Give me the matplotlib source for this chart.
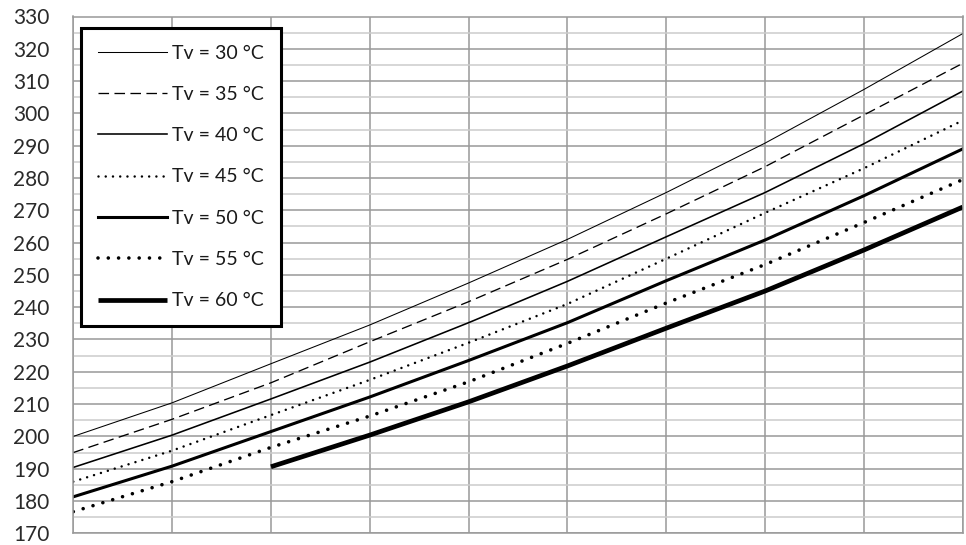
import numpy as np
import matplotlib
matplotlib.use('Agg')
import matplotlib.pyplot as plt
from matplotlib.ticker import MultipleLocator, NullFormatter

plt.rcParams['font.family'] = ['Lato', 'DejaVu Sans']
plt.rcParams['lines.scale_dashes'] = False

# values read at the vertical gridlines 0..9
x = np.arange(10)
tv30 = [200.0, 210.4, 222.5, 234.5, 247.5, 261.0, 275.5, 290.8, 307.4, 324.7]
tv35 = [195.0, 205.3, 216.6, 229.3, 241.7, 254.8, 268.9, 283.5, 299.5, 315.5]
tv40 = [190.4, 200.4, 211.6, 223.0, 235.2, 248.0, 261.8, 275.5, 290.6, 306.9]
tv45 = [186.0, 195.6, 206.6, 217.5, 229.0, 241.0, 255.0, 269.2, 283.0, 297.8]
tv50 = [181.3, 190.8, 201.5, 212.2, 223.5, 235.2, 248.2, 260.8, 274.5, 289.0]
tv55 = [176.7, 186.0, 196.6, 206.3, 216.9, 228.8, 241.3, 253.2, 266.2, 279.5]
x60 = np.arange(2, 10)
tv60 = [190.6, 200.4, 210.7, 221.8, 233.5, 245.0, 257.7, 271.0]

labels = ['Tv = 30 °C', 'Tv = 35 °C', 'Tv = 40 °C', 'Tv = 45 °C',
          'Tv = 50 °C', 'Tv = 55 °C', 'Tv = 60 °C']

fig = plt.figure(figsize=(9.66, 5.45), dpi=100)
ax = fig.add_axes([73.3 / 966, 1 - 533.3 / 545, 889.4 / 966, 516.8 / 545])

ax.plot(x, tv30, color='black', lw=0.75, label=labels[0])
ax.plot(x, tv35, color='black', lw=0.95, dashes=(7.6, 3.9), label=labels[1])
ax.plot(x, tv40, color='black', lw=1.15, label=labels[2])
ax.plot(x, tv45, color='black', lw=1.8, dashes=(0.01, 5.2),
        dash_capstyle='round', label=labels[3])
ax.plot(x, tv50, color='black', lw=2.2, label=labels[4])
ax.plot(x, tv55, color='black', lw=2.6, dashes=(0.01, 7.4),
        dash_capstyle='round', label=labels[5])
ax.plot(x60, tv60, color='black', lw=3.4, solid_capstyle='butt', label=labels[6])

ax.set_xlim(0, 9)
ax.set_ylim(170, 330)
ax.set_xticks(x)
ax.xaxis.set_major_formatter(NullFormatter())
ax.yaxis.set_major_locator(MultipleLocator(10))
ax.yaxis.set_minor_locator(MultipleLocator(5))
ax.grid(which='major', color='#999999', lw=1.1)
ax.grid(which='minor', axis='y', color='#cccccc', lw=1.1)
ax.set_axisbelow(True)
ax.tick_params(axis='both', which='both', length=0)
ax.tick_params(axis='y', labelsize=15, pad=17, labelcolor='#2a2a2a')
for s in ax.spines.values():
    s.set_color('#999999')
    s.set_linewidth(1.1)

leg = ax.legend(loc='upper left', bbox_to_anchor=(7.7 / 889.4, 1 - 11.5 / 516.8),
                borderaxespad=0, fancybox=False, framealpha=1, edgecolor='black',
                fontsize=14, handlelength=3.55, handletextpad=0.3,
                labelspacing=1.25, borderpad=0.85)
leg.get_frame().set_linewidth(2.2)
for t in leg.get_texts():
    t.set_color('#1a1a1a')

fig.savefig('out.png', dpi=100)
